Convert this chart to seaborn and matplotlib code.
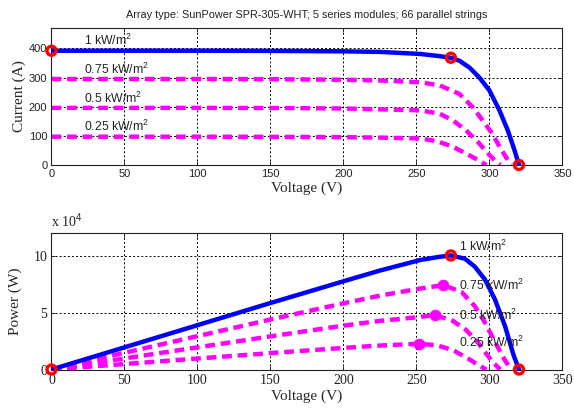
import numpy as np
import pandas as pd
import matplotlib
matplotlib.use("Agg")
import matplotlib.pyplot as plt
import seaborn as sns

# ---------------- data ----------------
title = "Array type: SunPower SPR-305-WHT; 5 series modules; 66 parallel strings"
irr_labels = ["1 kW/m$^2$", "0.75 kW/m$^2$", "0.5 kW/m$^2$", "0.25 kW/m$^2$"]

# I-V curves (voltage V, current A)
v_1 = [0, 50, 100, 150, 200, 225, 252.5, 265, 273.6, 279.4, 286.2, 293, 300, 306.9, 312.6, 317.2, 320.3]
i_1 = [392, 392, 392, 391.5, 390, 388, 381, 374, 368, 358, 335, 301, 256, 187.5, 119, 51, 0]
v_075 = [0, 50, 100, 150, 200, 225, 252.5, 266, 279.4, 288.5, 295.4, 302.2, 307.9, 312, 315]
i_075 = [295, 295, 295, 294.5, 292.5, 290, 284, 273, 244, 199, 153, 106, 55, 22, 0]
v_05 = [0, 50, 100, 150, 200, 225, 252.5, 266, 275, 284, 292, 299, 303.5, 307.5]
i_05 = [196, 196, 196, 195.5, 194, 191, 187.5, 176, 153, 119, 80, 40, 17, 0]
v_025 = [0, 50, 100, 150, 200, 225, 252.5, 264, 275, 286, 293, 298]
i_025 = [97, 97, 97, 96.5, 95.5, 94, 91, 82, 62.5, 34, 15, 0]

# P-V curves (voltage V, power in units of 1e4 W)
pv_v_1 = [0, 50, 100, 150, 200, 225, 252.5, 265, 273.6, 283.2, 290, 297, 303.8, 310.7, 316.5, 320.3]
pv_p_1 = [0, 1.96, 3.92, 5.88, 7.8, 8.75, 9.68, 9.95, 10.09, 9.8, 9.1, 7.95, 6.2, 3.85, 1.3, 0]
pv_v_075 = [0, 50, 100, 150, 200, 225, 252.5, 268.5, 281, 290, 297, 303.8, 310.7, 315]
pv_p_075 = [0, 1.48, 2.95, 4.42, 5.85, 6.53, 7.16, 7.46, 6.85, 5.6, 4.15, 2.45, 0.8, 0]
pv_v_05 = [0, 50, 100, 150, 200, 225, 252.5, 262.8, 275, 284, 292, 299, 303.5, 307.5]
pv_p_05 = [0, 0.98, 1.96, 2.93, 3.88, 4.3, 4.65, 4.82, 4.3, 3.5, 2.42, 1.2, 0.5, 0]
pv_v_025 = [0, 50, 100, 150, 200, 225, 252, 264, 275, 286, 293, 298]
pv_p_025 = [0, 0.485, 0.97, 1.45, 1.91, 2.12, 2.28, 2.14, 1.72, 0.92, 0.35, 0]

# marked points
iv_red_v = [0, 273.6, 320.3]
iv_red_i = [392, 368, 0]
pv_red_v = [0, 273.6, 320.3]
pv_red_p = [0, 10.09, 0]
mpp_v = [268.5, 262.8, 252]
mpp_p = [7.46, 4.82, 2.28]

# label anchor positions
iv_lab_v = [22, 22, 22, 22]
iv_lab_i = [428, 328, 230, 131]
pv_lab_v = [279.5, 279.5, 279.5, 279.5]
pv_lab_p = [10.85, 7.4, 4.82, 2.38]

xticks = [0, 50, 100, 150, 200, 250, 300, 350]
iv_yticks = [0, 100, 200, 300, 400]
pv_yticks = [0, 5, 10]

# ---------------- plotting ----------------
sns.set_style("white")
plt.rcParams["font.family"] = ["Liberation Sans", "DejaVu Sans"]
plt.rcParams["mathtext.fontset"] = "custom"
plt.rcParams["mathtext.rm"] = "Liberation Sans"
plt.rcParams["mathtext.it"] = "Liberation Sans"

fig = plt.figure(figsize=(5.74, 4.13), dpi=100)
ax1 = fig.add_axes([0.0897, 0.6005, 0.890, 0.3317])
ax2 = fig.add_axes([0.0897, 0.1053, 0.890, 0.3305])

BLUE = (0, 0, 1)
MAG = (1, 0, 1)
RED = (1, 0, 0)
dash = (0, (2.2, 1.3))
LW = 3.2

def style_axes(ax, yticks, ylim, serif_ticks):
    ax.set_xlim(0, 350)
    ax.set_ylim(*ylim)
    ax.set_xticks(xticks)
    ax.set_yticks(yticks)
    ax.grid(True, color="black", linestyle=(0, (2, 2.2)), linewidth=0.7)
    ax.set_axisbelow(True)
    for s in ax.spines.values():
        s.set_color("#222222")
        s.set_linewidth(0.8)
    ax.tick_params(direction="in", length=3, width=0.7, colors="#222222",
                   top=True, right=True, bottom=True, left=True, pad=3)
    fam = ["Liberation Serif", "DejaVu Serif"] if serif_ticks else ["Liberation Sans", "DejaVu Sans"]
    size = 10 if serif_ticks else 8
    for lab in ax.get_xticklabels() + ax.get_yticklabels():
        lab.set_family(fam)
        lab.set_fontsize(size)
        lab.set_color("#222222")

# --- top: I-V ---
iv_sets = [(v_1, i_1), (v_075, i_075), (v_05, i_05), (v_025, i_025)]
for k, (vv, ii) in enumerate(iv_sets):
    df = pd.DataFrame({"V": vv, "I": ii})
    if k == 0:
        sns.lineplot(data=df, x="V", y="I", ax=ax1, sort=False, color=BLUE,
                     linewidth=LW, zorder=3)
    else:
        sns.lineplot(data=df, x="V", y="I", ax=ax1, sort=False, color=MAG,
                     linewidth=LW, linestyle=dash, zorder=2)
sns.scatterplot(x=iv_red_v, y=iv_red_i, ax=ax1, s=42, marker="o",
                facecolor="none", edgecolor=RED, linewidth=2.4, zorder=5, clip_on=False)
for lab, xv, yv in zip(irr_labels, iv_lab_v, iv_lab_i):
    ax1.text(xv, yv, lab, fontsize=8.8, va="center", ha="left", color="#222222")
style_axes(ax1, iv_yticks, (0, 470), serif_ticks=False)
ax1.set_xlabel("Voltage (V)", family=["Liberation Serif"], fontsize=11, labelpad=2)
ax1.set_ylabel("Current (A)", family=["Liberation Serif"], fontsize=11, labelpad=2)
ax1.set_title(title, fontsize=7.8, pad=7, color="#222222")

# --- bottom: P-V ---
pv_sets = [(pv_v_1, pv_p_1), (pv_v_075, pv_p_075), (pv_v_05, pv_p_05), (pv_v_025, pv_p_025)]
for k, (vv, pp) in enumerate(pv_sets):
    df = pd.DataFrame({"V": vv, "P": pp})
    if k == 0:
        sns.lineplot(data=df, x="V", y="P", ax=ax2, sort=False, color=BLUE,
                     linewidth=LW, zorder=3)
    else:
        sns.lineplot(data=df, x="V", y="P", ax=ax2, sort=False, color=MAG,
                     linewidth=LW, linestyle=dash, zorder=2)
sns.scatterplot(x=mpp_v, y=mpp_p, ax=ax2, s=60, marker="o", color=MAG,
                edgecolor=MAG, zorder=4)
sns.scatterplot(x=pv_red_v, y=pv_red_p, ax=ax2, s=42, marker="o",
                facecolor="none", edgecolor=RED, linewidth=2.4, zorder=5, clip_on=False)
for lab, xv, yv in zip(irr_labels, pv_lab_v, pv_lab_p):
    ax2.text(xv, yv, lab, fontsize=8.8, va="center", ha="left", color="#222222")
style_axes(ax2, pv_yticks, (0, 12.07), serif_ticks=True)
ax2.set_xlabel("Voltage (V)", family=["Liberation Serif"], fontsize=11, labelpad=2)
ax2.set_ylabel("Power (W)", family=["Liberation Serif"], fontsize=11, labelpad=8)
ax2.text(0.0, 1.02, "x 10$^4$", transform=ax2.transAxes, ha="left", va="bottom",
         family=["Liberation Serif"], fontsize=10, color="#222222")

fig.savefig("out.png", dpi=100)
